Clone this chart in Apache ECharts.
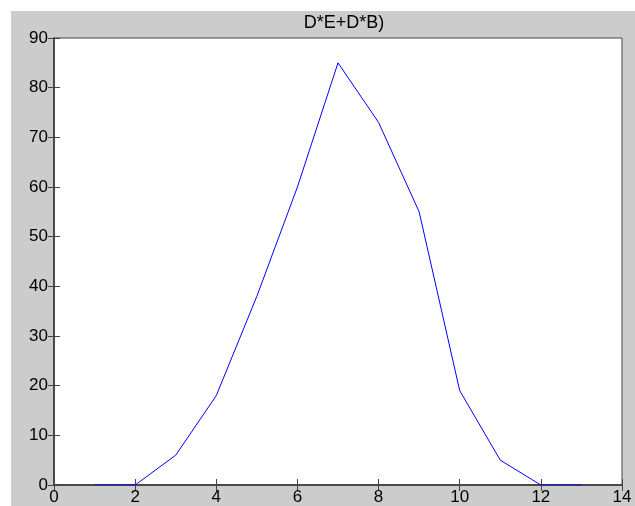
<!DOCTYPE html>
<html>
<head>
<meta charset="utf-8">
<script src="https://cdn.jsdelivr.net/npm/echarts@6/dist/echarts.min.js"></script>
<style>
	html, body { margin: 0; padding: 0; background: #fff; }
	#chart { width: 635px; height: 506px; }
</style>
</head>
<body>
<div id="chart"></div>
<script>
var xs = [1, 2, 3, 4, 5, 6, 7, 8, 9, 10, 11, 12, 13];
var ys = [0, 0, 6, 18, 38, 60, 85, 73, 55, 19, 5, 0, 0];
var xTicks = [0, 14, 2];
var yTicks = [0, 90, 10];

var points = [];
for (var i = 0; i < xs.length; i++) {
	points.push([xs[i], ys[i]]);
}

var myChart = echarts.init(document.getElementById('chart'));

var labelStyle = {
	color: '#000',
	fontFamily: 'Liberation Sans, Arial',
	fontSize: 17
};

function axisBase(show, pos, range, margin) {
	return {
		type: 'value',
		position: pos,
		min: range[0],
		max: range[1],
		interval: range[2],
		axisLine: { show: true, lineStyle: { color: '#444', width: 1.5 } },
		axisTick: { show: true, inside: true, length: 6, lineStyle: { color: '#444' } },
		axisLabel: Object.assign({ show: show, margin: margin }, labelStyle),
		splitLine: { show: false }
	};
}

option = {
	backgroundColor: '#fff',
	animation: false,
	// grey figure area, white strip at the top and left
	graphic: [{
		type: 'rect',
		z: -10,
		silent: true,
		shape: { x: 11, y: 11, width: 624, height: 495 },
		style: { fill: '#cccccc' }
	}],
	title: {
		text: 'D*E+D*B)',
		left: 339,
		textAlign: 'center',
		top: 9,
		textStyle: {
			color: '#000',
			fontFamily: 'Liberation Sans, Arial',
			fontSize: 18,
			fontWeight: 'normal'
		}
	},
	grid: {
		left: 54,
		right: 13,
		top: 38,
		bottom: 20,
		show: true,
		backgroundColor: '#fff',
		borderColor: '#444',
		borderWidth: 1
	},
	xAxis: [axisBase(true, 'bottom', xTicks, 4), axisBase(false, 'top', xTicks, 4)],
	yAxis: [axisBase(true, 'left', yTicks, 6), axisBase(false, 'right', yTicks, 6)],
	series: [{
		type: 'line',
		data: points,
		showSymbol: false,
		lineStyle: { color: '#0000ff', width: 1 },
		itemStyle: { color: '#0000ff' }
	}]
};

myChart.setOption(option);
</script>
</body>
</html>
